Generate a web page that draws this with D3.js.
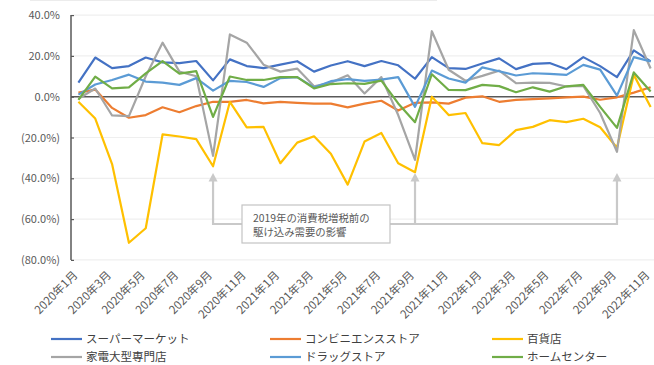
<!DOCTYPE html>
<html lang="ja">
<head>
<meta charset="utf-8">
<script src="https://cdn.jsdelivr.net/npm/d3@7"></script>
<style>
  html, body { margin: 0; padding: 0; background: #fff; }
  svg { display: block; font-family: "Noto Sans CJK JP", "Noto Sans", sans-serif; }
</style>
</head>
<body>
<svg id="chart" width="654" height="365"></svg>
<script>
// Monthly categories (Jan 2020 – Nov 2022)
const months = [
  "2020年1月","2020年2月","2020年3月","2020年4月","2020年5月","2020年6月",
  "2020年7月","2020年8月","2020年9月","2020年10月","2020年11月","2020年12月",
  "2021年1月","2021年2月","2021年3月","2021年4月","2021年5月","2021年6月",
  "2021年7月","2021年8月","2021年9月","2021年10月","2021年11月","2021年12月",
  "2022年1月","2022年2月","2022年3月","2022年4月","2022年5月","2022年6月",
  "2022年7月","2022年8月","2022年9月","2022年10月","2022年11月"
];

// Labels shown on the x axis (every other month)
const xTickLabels = [
  "2020年1月","2020年3月","2020年5月","2020年7月","2020年9月","2020年11月",
  "2021年1月","2021年3月","2021年5月","2021年7月","2021年9月","2021年11月",
  "2022年1月","2022年3月","2022年5月","2022年7月","2022年9月","2022年11月"
];

// Y axis ticks (%)
const yTicks = [40, 20, 0, -20, -40, -60, -80];

// Growth rates by business type (%)
const supermarket = [6.9, 19.2, 14.0, 15.0, 19.2, 16.8, 16.5, 17.5, 8.0, 18.3, 15.0, 14.0,
  15.7, 17.4, 12.3, 15.3, 17.4, 15.0, 17.5, 15.4, 8.8, 19.4, 14.0, 13.6,
  16.3, 18.8, 13.5, 16.1, 16.5, 13.5, 19.4, 15.0, 9.6, 22.7, 17.3];
const convenience = [2.0, 3.5, -5.5, -10.3, -9.0, -5.2, -7.6, -4.6, -2.5, -2.5, -1.6, -3.3,
  -2.5, -3.0, -3.4, -3.4, -5.2, -3.4, -2.0, -6.8, -3.0, -2.8, -3.4, -0.5,
  0.2, -2.5, -1.6, -1.2, -0.8, -0.3, 0.0, -1.5, -0.3, 2.0, 4.6];
const department = [-2.5, -10.7, -33.0, -71.6, -64.5, -18.5, -19.5, -20.8, -34.1, -2.5, -15.0, -14.8,
  -32.6, -22.5, -19.4, -28.0, -43.1, -22.0, -17.8, -32.6, -37.0, 0.0, -9.0, -8.0,
  -22.8, -23.7, -16.4, -14.8, -11.5, -12.5, -10.8, -15.0, -25.0, 10.7, -5.0];
const appliance = [-1.0, 4.0, -9.2, -9.5, 10.0, 26.5, 12.3, 10.0, -29.0, 30.5, 26.5, 15.7,
  12.3, 13.8, 5.1, 6.9, 10.5, 1.6, 9.6, -9.0, -31.0, 32.1, 13.2, 7.8,
  10.2, 12.8, 6.6, 6.9, 6.8, 5.0, 5.3, -8.0, -27.0, 32.6, 13.8];
const drugstore = [1.0, 6.0, 8.2, 10.8, 7.4, 6.9, 5.8, 9.1, 3.0, 7.8, 7.2, 4.8,
  9.1, 9.6, 4.5, 7.6, 8.6, 7.8, 8.4, 9.6, -5.0, 12.8, 8.9, 6.9,
  14.4, 12.5, 10.4, 11.5, 11.2, 10.7, 15.6, 13.3, 0.5, 19.4, 17.3];
const homecenter = [-1.6, 9.8, 4.1, 4.6, 11.4, 17.4, 11.3, 12.5, -9.9, 9.9, 8.2, 8.2,
  9.6, 9.6, 4.1, 6.2, 6.6, 6.3, 7.9, -3.3, -12.5, 11.0, 3.3, 3.2,
  5.8, 5.2, 2.2, 4.6, 2.5, 5.1, 5.8, -5.0, -15.3, 11.9, 2.5];

const seriesNames = ["スーパーマーケット","コンビニエンスストア","百貨店","家電大型専門店","ドラッグストア","ホームセンター"];
const seriesValues = [supermarket, convenience, department, appliance, drugstore, homecenter];
const seriesColors = ["#4472C4","#ED7D31","#FFC000","#A5A5A5","#5B9BD5","#70AD47"];

// Months whose comparison base includes the pre-tax-hike rush (Sep 2019)
const calloutMonths = ["2020年9月","2021年9月","2022年9月"];
const calloutLines = ["2019年の消費税増税前の","駆け込み需要の影響"];

const svg = d3.select("#chart");

const x = d3.scaleBand().domain(months).range([70, 70 + 35 * 16.83]);
const cx = m => x(m) + x.bandwidth() / 2;
const y = d3.scaleLinear().domain([-80, 40]).range([259.9, 15.1]);

// faint rule along the top edge
svg.append("line").attr("x1", 30).attr("x2", 437).attr("y1", 0.5).attr("y2", 0.5)
  .attr("stroke", "#ececec").attr("stroke-width", 1);

// Gridlines
svg.append("g").selectAll("line").data(yTicks.filter(d => d !== 0)).join("line")
  .attr("x1", 71).attr("x2", 654)
  .attr("y1", d => y(d)).attr("y2", d => y(d))
  .attr("stroke", "#efefef").attr("stroke-width", 1.2);

// Y axis
const yAxis = d3.axisLeft(y).tickValues(yTicks).tickSize(-3).tickPadding(11)
  .tickFormat(d => d < 0 ? `(${Math.abs(d).toFixed(1)}%)` : `${d.toFixed(1)}%`);
const gy = svg.append("g").attr("transform", "translate(71,0)").call(yAxis);
gy.select(".domain").attr("stroke", "#595959").attr("stroke-width", 1.5).attr("d", `M0,${y(40)}V${y(-80)}`);
gy.selectAll(".tick line").attr("stroke", "#595959").attr("stroke-width", 1.2);
gy.selectAll(".tick text").attr("fill", "#595959").style("font-size", "11px")
  .style("font-family", "'Noto Sans CJK JP', sans-serif");

// Zero line
svg.append("line").attr("x1", 71).attr("x2", 654).attr("y1", y(0)).attr("y2", y(0))
  .attr("stroke", "#595959").attr("stroke-width", 1.6);

// X axis labels
const gx = svg.append("g");
gx.selectAll("text").data(xTickLabels).join("text")
  .attr("transform", d => `translate(${cx(d) - 3},${273}) rotate(-45)`)
  .attr("text-anchor", "end").attr("dy", "0.35em")
  .attr("fill", "#595959").style("font-size", "11.5px")
  .text(d => d);

// Series lines
const line = d3.line().x((d, i) => cx(months[i])).y(d => y(d));
svg.append("g").selectAll("path").data(seriesValues).join("path")
  .attr("d", d => line(d))
  .attr("fill", "none")
  .attr("stroke", (d, i) => seriesColors[i])
  .attr("stroke-width", 2.2)
  .attr("stroke-linejoin", "round");

// Callout arrows and box
const ann = svg.append("g");
const arrowBaseY = 224, arrowTipY = 173;
const ax = calloutMonths.map(cx);
ann.append("path")
  .attr("d", `M${ax[0]},${arrowTipY + 7}V${arrowBaseY}H${ax[2]}V${arrowTipY + 7}M${ax[1]},${arrowBaseY}V${arrowTipY + 7}`)
  .attr("fill", "none").attr("stroke", "#c9c9c9").attr("stroke-width", 2.2);
ann.selectAll("path.head").data(ax).join("path").attr("class", "head")
  .attr("d", d => `M${d},${arrowTipY}L${d - 4.5},${arrowTipY + 8.5}L${d + 4.5},${arrowTipY + 8.5}Z`)
  .attr("fill", "#c9c9c9");
ann.append("rect").attr("x", 242).attr("y", 205).attr("width", 148).attr("height", 38)
  .attr("fill", "#fff").attr("stroke", "#c4c4c4").attr("stroke-width", 1.2);
ann.selectAll("text").data(calloutLines).join("text")
  .attr("x", 253).attr("y", (d, i) => 218 + i * 14).attr("dy", "0.35em")
  .attr("fill", "#595959").style("font-size", "10.4px")
  .text(d => d);

// Legend
const legendPos = [[51, 339], [270, 339], [492, 339], [51, 357], [270, 357], [492, 357]];
const lg = svg.append("g").selectAll("g").data(seriesNames).join("g")
  .attr("transform", (d, i) => `translate(${legendPos[i][0]},${legendPos[i][1]})`);
lg.append("line").attr("x1", 0).attr("x2", 31).attr("y1", 0).attr("y2", 0)
  .attr("stroke", (d, i) => seriesColors[i]).attr("stroke-width", 2.2);
lg.append("text").attr("x", 35).attr("dy", "0.35em")
  .attr("fill", "#404040").style("font-size", "11.5px").text(d => d);
</script>
</body>
</html>
